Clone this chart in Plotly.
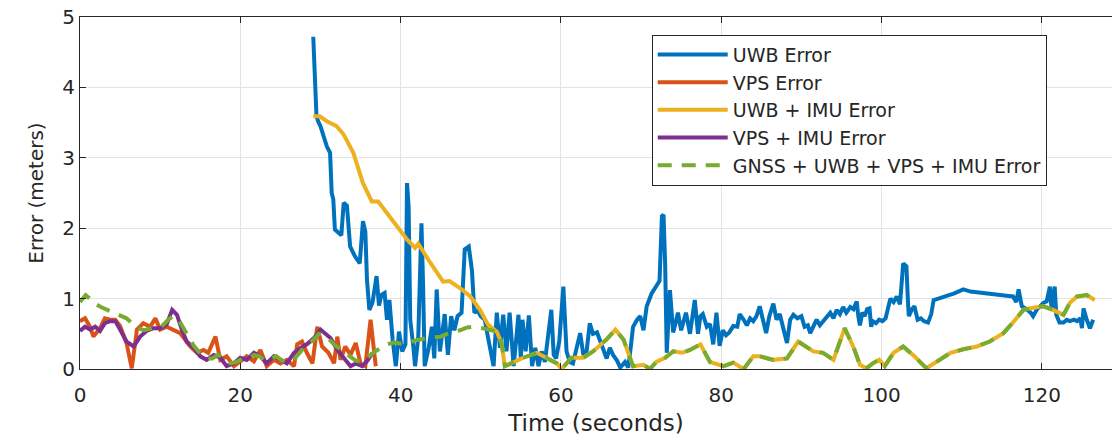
import plotly.graph_objects as go

# ---------------- data ----------------
t_uwb = [29.1, 29.3, 29.5, 29.7, 30.0, 30.8, 31.2, 31.4, 31.6, 31.8, 32.2, 32.6, 32.9, 33.3, 33.7, 34.3, 34.9, 35.3, 35.6, 35.8,
         36.1, 36.5, 37.0, 37.3, 37.6, 38.0, 38.3, 38.6, 39.0, 39.4, 39.8, 40.2, 40.6, 40.8, 41.0, 41.2, 41.6, 41.8, 42.2, 42.6,
         42.8, 43.0, 43.5, 43.9, 44.2, 44.5, 44.9, 45.2, 45.5, 45.9, 46.3, 46.7, 47.1, 47.6, 48.0, 48.5, 48.9, 49.2, 49.6, 50.0,
         50.5, 50.9, 51.3, 51.6, 52.0, 52.4, 52.8, 53.2, 53.6, 54.1, 54.4, 54.7, 55.0, 55.2, 55.6, 56.0, 56.4, 56.8, 57.2, 57.6,
         58.0, 58.5, 58.8, 59.1, 59.4, 59.8, 60.3, 60.7, 61.1, 61.5, 62.0, 62.4, 62.8, 63.2, 63.6, 64.0, 64.5, 65.0, 65.4, 65.7,
         66.1, 66.5, 67.0, 67.4, 68.0, 68.4, 68.7, 69.0, 69.5, 69.9, 70.3, 70.7, 71.3, 71.9, 72.3, 72.6, 72.8, 73.0, 73.2, 73.6,
         74.0, 74.3, 74.6, 75.0, 75.3, 75.6, 76.1, 76.4, 76.7, 77.1, 77.4, 77.7, 78.2, 78.6, 79.0, 79.4, 79.8, 80.2, 80.6, 81.0,
         81.5, 82.0, 82.3, 82.8, 83.2, 83.6, 84.0, 84.4, 84.8, 85.2, 85.6, 86.0, 86.5, 86.9, 87.3, 87.8, 88.2, 88.6, 89.0, 89.5,
         90.0, 90.4, 90.8, 91.1, 91.5, 91.9, 92.3, 92.7, 93.2, 93.6, 94.0, 94.4, 94.8, 95.2, 95.6, 96.1, 96.5, 96.9, 97.1, 97.3,
         97.6, 97.9, 98.2, 98.5, 98.7, 98.9, 99.3, 99.7, 100.1, 100.5, 101.1, 101.5, 101.9, 102.3, 102.7, 103.1, 103.3, 103.4,
         103.8, 104.1, 104.5, 104.9, 105.3, 105.8, 106.2, 106.5, 107.1, 107.7, 108.4, 109.0, 109.6, 110.2, 111.1, 112.1, 113.1,
         114.0, 114.8, 115.6, 116.4, 116.8, 117.1, 117.5, 118.1, 118.6, 118.9, 119.4, 119.8, 120.2, 120.6, 121.0, 121.2, 121.6,
         121.8, 122.2, 122.7, 123.1, 123.5, 124.0, 124.4, 124.8, 125.0, 125.2, 125.6, 126.0, 126.4]
v_uwb = [4.72, 4.25, 3.60, 3.52, 3.45, 3.16, 3.07, 2.50, 2.41, 1.98, 1.93, 1.90, 2.36, 2.32, 1.74, 1.60, 1.50, 2.10, 1.95, 1.27,
         0.84, 0.95, 1.32, 0.90, 1.05, 1.08, 0.70, 0.98, 0.42, 0.04, 0.53, 0.25, 0.35, 2.64, 2.30, 0.70, 0.30, 0.04, 0.45, 2.07,
         1.20, 0.04, 0.30, 0.60, 0.15, 1.13, 0.25, 0.55, 0.78, 0.20, 0.75, 0.55, 0.75, 0.80, 1.70, 1.74, 1.40, 0.80, 0.83, 0.75,
         0.70, 0.45, 0.20, 0.04, 0.80, 0.30, 0.77, 0.25, 0.80, 0.04, 0.40, 0.77, 0.15, 0.70, 0.25, 0.76, 0.04, 0.30, 0.04, 0.25,
         0.10, 0.60, 0.84, 0.20, 0.15, 0.40, 1.17, 0.25, 0.10, 0.08, 0.35, 0.51, 0.20, 0.25, 0.65, 0.50, 0.52, 0.35, 0.25, 0.15,
         0.30, 0.20, 0.12, 0.02, 0.10, 0.02, 0.30, 0.60, 0.70, 0.75, 0.55, 0.89, 1.07, 1.17, 1.25, 2.17, 2.19, 1.50, 0.23, 1.12,
         0.52, 0.65, 0.80, 0.55, 0.70, 0.80, 0.50, 0.70, 0.98, 0.50, 0.75, 0.78, 0.60, 0.64, 0.35, 0.80, 0.33, 0.55, 0.48, 0.52,
         0.61, 0.60, 0.78, 0.70, 0.62, 0.72, 0.68, 0.75, 0.89, 0.70, 0.51, 0.75, 0.93, 0.70, 0.78, 0.55, 0.37, 0.70, 0.77, 0.72,
         0.75, 0.60, 0.62, 0.51, 0.60, 0.70, 0.62, 0.68, 0.75, 0.80, 0.72, 0.84, 0.78, 0.88, 0.80, 0.88, 0.85, 0.96, 0.75, 0.62,
         0.80, 0.75, 0.85, 0.86, 0.60, 0.68, 0.65, 0.70, 0.68, 0.72, 1.00, 0.95, 1.03, 0.92, 1.50, 1.46, 0.95, 0.75,
         0.85, 0.89, 0.70, 0.72, 0.68, 0.66, 0.78, 0.98, 1.00, 1.03, 1.05, 1.07, 1.10, 1.13, 1.10, 1.09, 1.07,
         1.06, 1.05, 1.04, 1.03, 0.95, 1.13, 0.89, 0.85, 0.80, 0.75, 0.85, 0.90, 0.94, 0.96, 1.17, 0.85, 1.17,
         0.77, 0.66, 0.66, 0.70, 0.68, 0.70, 0.68, 0.72, 0.58, 0.86, 0.70, 0.58, 0.70]

t_vps = [0.0, 0.63, 1.25, 1.67, 2.5, 3.1, 3.75, 4.4, 5.0, 5.8, 6.46, 7.1, 7.9, 8.75, 9.4, 10.0, 10.8, 11.7, 12.5, 13.1,
         13.75, 14.6, 15.4, 16.0, 16.9, 17.5, 18.3, 19.2, 20.0, 20.8, 21.7, 22.5, 23.3, 24.2, 25.0, 25.8, 26.7, 27.1, 27.7,
         28.3, 29.0, 29.6, 30.2, 31.0, 31.7, 32.1, 32.5, 33.1, 33.75, 34.4, 35.0, 35.6, 36.25, 36.9]
v_vps = [0.68, 0.72, 0.60, 0.46, 0.58, 0.72, 0.70, 0.70, 0.61, 0.37, 0.01, 0.56, 0.65, 0.60, 0.72, 0.56, 0.60, 0.56, 0.51, 0.42,
         0.32, 0.23, 0.27, 0.23, 0.46, 0.13, 0.18, 0.04, 0.11, 0.18, 0.11, 0.27, 0.04, 0.13, 0.08, 0.13, 0.04, 0.35, 0.39,
         0.23, 0.08, 0.60, 0.32, 0.23, 0.08, 0.46, 0.13, 0.32, 0.20, 0.37, 0.08, 0.04, 0.70, 0.04]

t_vps_imu = [0.0, 0.63, 1.25, 1.9, 2.5, 3.1, 3.75, 4.4, 5.0, 5.8, 6.7, 7.5, 8.3, 9.2, 10.0, 10.8, 11.5, 12.1, 12.7, 13.3,
             14.2, 15.0, 15.8, 16.7, 17.5, 18.3, 19.2, 20.0, 20.8, 21.7, 22.5, 23.3, 24.2, 25.0, 25.8, 26.7, 27.5, 28.3,
             29.2, 30.0, 30.6, 31.25, 32.1, 32.9, 33.75, 34.4, 35.2, 35.8, 36.5]
v_vps_imu = [0.54, 0.60, 0.56, 0.60, 0.54, 0.65, 0.68, 0.68, 0.56, 0.39, 0.32, 0.46, 0.54, 0.58, 0.58, 0.63, 0.84, 0.77, 0.56, 0.39,
             0.30, 0.18, 0.13, 0.20, 0.16, 0.04, 0.08, 0.16, 0.13, 0.23, 0.18, 0.08, 0.18, 0.13, 0.08, 0.23, 0.30, 0.35,
             0.44, 0.56, 0.51, 0.44, 0.27, 0.16, 0.04, 0.08, 0.04, 0.11, 0.23]

# UWB + IMU before it joins the fused curve
t_uwb_imu_head = [29.1, 29.9, 30.8, 32.0, 32.9, 34.1, 35.3, 36.4, 37.2, 38.3, 39.5, 40.8, 41.8, 42.2, 43.7, 45.3, 46.1,
                  47.4, 48.7, 49.9, 50.9, 52.0, 52.6]
v_uwb_imu_head = [3.59, 3.59, 3.52, 3.45, 3.33, 3.07, 2.64, 2.38, 2.38, 2.22, 2.03, 1.84, 1.72, 1.78, 1.51, 1.24, 1.25,
                  1.15, 1.03, 0.84, 0.63, 0.53, 0.37]

# GNSS + UWB + VPS + IMU before it joins UWB + IMU
t_fused_head = [0.0, 0.3, 0.7, 1.2, 2.0, 2.6, 3.2, 4.0, 5.0, 5.8, 6.5, 7.2, 8.0, 8.8, 9.5, 10.3, 11.0, 11.6, 12.2, 12.8,
                13.5, 14.2, 15.0, 15.8, 16.5, 17.2, 18.0, 18.8, 19.5, 20.3, 21.0, 21.7, 22.4, 23.0, 23.8, 24.5, 25.2, 26.0,
                26.8, 27.5, 28.3, 29.0, 29.8, 30.5, 31.2, 32.0, 32.8, 33.6, 34.4, 35.2, 36.0, 36.8, 37.6, 38.3, 39.2,
                40.0, 40.8, 41.6, 42.4, 43.3, 44.2, 45.0, 45.8, 46.6, 47.4, 48.3, 49.2, 50.2, 51.2, 52.0, 52.6]
v_fused_head = [0.95, 1.00, 1.05, 1.00, 0.92, 0.88, 0.85, 0.80, 0.76, 0.72, 0.65, 0.58, 0.55, 0.57, 0.60, 0.62, 0.70, 0.75, 0.72, 0.60,
                0.45, 0.33, 0.22, 0.15, 0.15, 0.20, 0.15, 0.08, 0.10, 0.15, 0.15, 0.20, 0.18, 0.12, 0.15, 0.18, 0.12, 0.10,
                0.15, 0.25, 0.35, 0.40, 0.50, 0.48, 0.40, 0.32, 0.25, 0.18, 0.12, 0.10, 0.18, 0.25, 0.30, 0.35, 0.38,
                0.36, 0.37, 0.40, 0.42, 0.44, 0.45, 0.46, 0.50, 0.52, 0.55, 0.59, 0.60, 0.58, 0.55, 0.53, 0.37]

# shared tail (UWB + IMU and fused estimate coincide)
t_tail = [53.0, 54.0, 55.3, 57.0, 58.2, 59.5, 60.1, 61.3, 62.8, 64.0, 65.7, 66.8, 67.8, 69.0, 70.3, 71.1, 71.9, 73.0, 74.0,
          75.1, 76.1, 77.4, 78.6, 80.3, 81.5, 82.8, 84.0, 84.8, 86.5, 88.2, 89.6, 91.5, 92.7, 94.0, 95.4, 96.5, 97.3, 98.1,
          98.9, 99.7, 100.4, 101.5, 102.7, 104.1, 105.6, 106.9, 108.6, 110.2, 111.9, 113.5, 115.2, 116.4, 117.7, 118.9,
          120.2, 121.4, 122.7, 123.5, 124.4, 125.6, 126.6]
v_tail = [0.04, 0.09, 0.16, 0.23, 0.16, 0.08, 0.00, 0.16, 0.16, 0.25, 0.42, 0.56, 0.42, 0.04, 0.06, 0.00, 0.10, 0.16, 0.25,
          0.23, 0.27, 0.35, 0.10, 0.04, 0.09, 0.00, 0.18, 0.18, 0.13, 0.15, 0.39, 0.25, 0.23, 0.13, 0.58, 0.31, 0.06, 0.01,
          0.08, 0.13, 0.04, 0.23, 0.32, 0.18, 0.01, 0.10, 0.23, 0.28, 0.32, 0.39, 0.51, 0.66, 0.84, 0.87,
          0.89, 0.84, 0.77, 0.94, 1.03, 1.05, 0.98]

x_ticks = [0, 20, 40, 60, 80, 100, 120]
y_ticks = [0, 1, 2, 3, 4, 5]

names = ["UWB Error", "VPS Error", "UWB + IMU Error", "VPS + IMU Error", "GNSS + UWB + VPS + IMU Error"]
colors = ["#0072BD", "#D95319", "#EDB120", "#7E2F8E", "#77AC30"]

# ---------------- figure ----------------
FONT = "DejaVu Sans, Liberation Sans, Arial, sans-serif"
TXT = "#262626"
LW = 4

fig = go.Figure()
fig.add_trace(go.Scatter(x=t_uwb, y=v_uwb, mode="lines", name=names[0],
                         line=dict(color=colors[0], width=LW)))
fig.add_trace(go.Scatter(x=t_vps, y=v_vps, mode="lines", name=names[1],
                         line=dict(color=colors[1], width=LW)))
fig.add_trace(go.Scatter(x=t_uwb_imu_head + t_tail, y=v_uwb_imu_head + v_tail, mode="lines", name=names[2],
                         line=dict(color=colors[2], width=LW)))
fig.add_trace(go.Scatter(x=t_vps_imu, y=v_vps_imu, mode="lines", name=names[3],
                         line=dict(color=colors[3], width=LW)))
fig.add_trace(go.Scatter(x=t_fused_head + t_tail, y=v_fused_head + v_tail, mode="lines", name=names[4],
                         line=dict(color=colors[4], width=LW, dash="14px,10px")))

axis_common = dict(
    showgrid=True, gridcolor="#e3e3e3", gridwidth=1,
    zeroline=False, showline=True, linecolor=TXT, linewidth=1,
    ticks="inside", ticklen=6, tickcolor=TXT, tickwidth=1,
    tickfont=dict(family=FONT, size=20, color=TXT),
    automargin=False, ticklabeloverflow="allow",
)

fig.update_layout(
    width=1112, height=439,
    margin=dict(l=80, r=0, t=17, b=70),
    paper_bgcolor="white", plot_bgcolor="white",
    font=dict(family=FONT, color=TXT),
    xaxis=dict(range=[0, 128.75], tickvals=x_ticks, mirror="ticks", ticklabelstandoff=8,
               title=dict(text="Time (seconds)", font=dict(family=FONT, size=23, color=TXT), standoff=8),
               **axis_common),
    yaxis=dict(range=[0, 5], tickvals=y_ticks,
               title=dict(text="Error (meters)", font=dict(family=FONT, size=20, color=TXT), standoff=13),
               **axis_common),
    legend=dict(x=0.554, y=0.95, xanchor="left", yanchor="top",
                bgcolor="white", bordercolor=TXT, borderwidth=1,
                font=dict(family=FONT, size=19, color=TXT),
                itemwidth=70, tracegroupgap=0),
    showlegend=True,
)

# remove the default page margin so the figure fills the window exactly
fig.write_html("out.html", config={"displayModeBar": False},
               post_script="document.body.style.margin='0px';document.body.style.overflow='hidden';")
